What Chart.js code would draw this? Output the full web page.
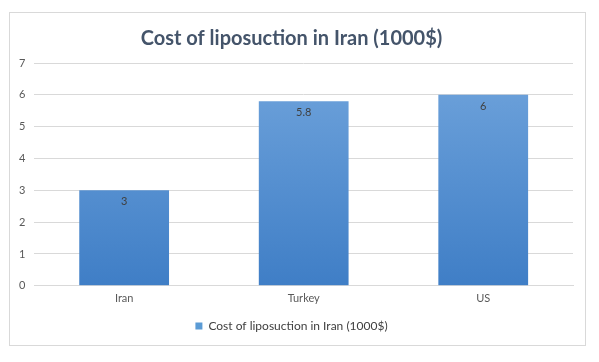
<!DOCTYPE html>
<html>
<head>
<meta charset="utf-8">
<script src="https://cdn.jsdelivr.net/npm/chart.js@4/dist/chart.umd.min.js"></script>
<style>
	body { margin: 0; background: #fff; }
	#box {
		position: absolute;
		left: 9px;
		top: 12px;
		width: 575px;
		height: 332px;
		border: 1px solid #d9d9d9;
	}
</style>
</head>
<body>
<div id="box"><canvas id="myChart"></canvas></div>
<script>
const categories = ['Iran', 'Turkey', 'US'];
const costValues = [3, 5.8, 6];
const seriesName = 'Cost of liposuction in Iran (1000$)';

const fontFamily = 'Lato, "Open Sans", sans-serif';

// gradient like the office-style bar fill
const barGradient = (context) => {
	const chart = context.chart;
	const area = chart.chartArea;
	if (!area) return '#5b9bd5';
	const g = chart.ctx.createLinearGradient(0, area.top, 0, area.bottom);
	g.addColorStop(0, '#70a4dc');
	g.addColorStop(1, '#3f7ec6');
	return g;
};

const valueLabels = {
	id: 'valueLabels',
	afterDatasetsDraw(chart) {
		const ctx = chart.ctx;
		const meta = chart.getDatasetMeta(0);
		ctx.save();
		ctx.fillStyle = '#404040';
		ctx.font = '11px ' + fontFamily;
		ctx.textAlign = 'center';
		ctx.textBaseline = 'top';
		meta.data.forEach((bar, i) => {
			ctx.fillText(String(costValues[i]), bar.x, bar.y + 6);
		});
		ctx.restore();
	},
};

const ctx = document.getElementById('myChart').getContext('2d');
const myChart = new Chart(ctx, {
	type: 'bar',
	data: {
		labels: categories,
		datasets: [
			{
				label: seriesName,
				data: costValues,
				backgroundColor: barGradient,
				borderWidth: 0,
				categoryPercentage: 1,
				barPercentage: 0.5,
			},
		],
	},
	options: {
		responsive: true,
		maintainAspectRatio: false,
		animation: false,
		layout: { padding: { left: 0, right: 12, top: 4, bottom: 3 } },
		plugins: {
			title: {
				display: true,
				text: seriesName,
				color: '#44546a',
				font: { family: fontFamily, size: 20, weight: 'bold' },
				padding: { top: 10, bottom: 12 },
			},
			legend: {
				position: 'bottom',
				labels: {
					color: '#404040',
					font: { family: fontFamily, size: 12 },
					boxWidth: 7,
					boxHeight: 7,
					padding: 9,
					generateLabels: (chart) => [{
						text: seriesName,
						fillStyle: '#5b9bd5',
						strokeStyle: '#5b9bd5',
						lineWidth: 0,
						fontColor: '#404040',
						datasetIndex: 0,
					}],
				},
			},
			tooltip: { enabled: false },
		},
		scales: {
			x: {
				grid: { display: false, drawTicks: false },
				border: { color: '#d9d9d9' },
				ticks: { color: '#595959', font: { family: fontFamily, size: 11 }, padding: 6 },
			},
			y: {
				min: 0,
				max: 7,
				ticks: { stepSize: 1, color: '#595959', font: { family: fontFamily, size: 11 }, padding: 9 },
				grid: { color: '#d9d9d9', drawTicks: false },
				border: { display: false },
			},
		},
	},
	plugins: [valueLabels],
});
</script>
</body>
</html>
